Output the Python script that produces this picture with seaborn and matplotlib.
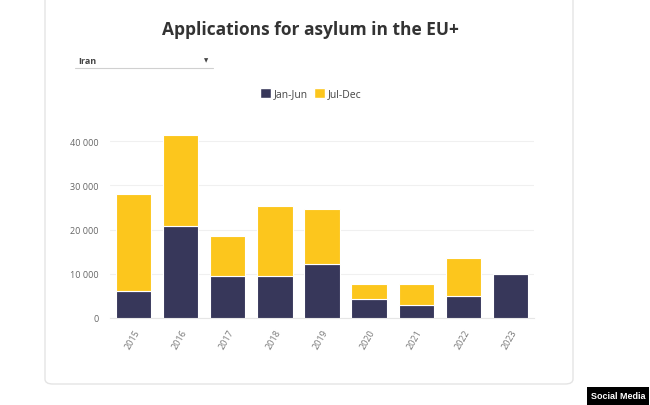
import numpy as np
import pandas as pd
import seaborn as sns
import matplotlib.pyplot as plt
from matplotlib.patches import FancyBboxPatch, Patch
from matplotlib.lines import Line2D

years = ['2015', '2016', '2017', '2018', '2019', '2020', '2021', '2022', '2023']
jan_jun = [6100, 20900, 9400, 9600, 12100, 4200, 3000, 4900, 9900]
jul_dec = [22000, 20500, 9100, 15800, 12500, 3550, 4800, 8700, 0]
yticks = [0, 10000, 20000, 30000, 40000]
ytick_labels = ['0', '10 000', '20 000', '30 000', '40 000']

navy = '#37375a'
yellow = '#fcc61d'

sns.set_style('white')
plt.rcParams['font.family'] = ['Open Sans', 'DejaVu Sans']

df = pd.DataFrame({'year': years, 'Jan-Jun': jan_jun, 'Jul-Dec': jul_dec})

fig = plt.figure(figsize=(6.5, 4.06), dpi=100)

# card background
card = FancyBboxPatch((45 / 650, 21 / 406), 528 / 650, 400 / 406,
                      boxstyle='round,pad=0,rounding_size=0.012',
                      transform=fig.transFigure, facecolor='white',
                      edgecolor='#e4e4e4', linewidth=1.0, zorder=-5)
fig.patches.append(card)

ax = fig.add_axes([110 / 650, 1 - 319 / 406, 424 / 650, 199 / 406])
ax.patch.set_alpha(0)
sns.barplot(data=df, x='year', y='Jan-Jun', color=navy, saturation=1, width=0.75,
            edgecolor='white', linewidth=0.8, ax=ax, zorder=3)
sns.barplot(data=df, x='year', y='Jul-Dec', bottom=df['Jan-Jun'], color=yellow,
            saturation=1, width=0.75, edgecolor='white', linewidth=0.8, ax=ax, zorder=3)

ax.set_ylim(0, 45000)
ax.set_xlim(-0.5, 8.5)
ax.set_yticks(yticks)
ax.set_yticklabels(ytick_labels, fontsize=6.5, color='#666666')
ax.set_xticks(range(len(years)))
ax.set_xticklabels(years, rotation=60, ha='right', rotation_mode='anchor',
                   fontsize=6.5, color='#777777')
ax.tick_params(axis='both', length=0, pad=7)
ax.tick_params(axis='y', pad=8)
ax.grid(axis='y', color='#f0f0f0', linewidth=0.8, zorder=0)
ax.set_axisbelow(True)
ax.set_xlabel('')
ax.set_ylabel('')
for s in ['top', 'right', 'left']:
    ax.spines[s].set_visible(False)
ax.spines['bottom'].set_color('#e6e6e6')
ax.spines['bottom'].set_linewidth(0.8)

fig.text(310 / 650, 1 - 30 / 406, 'Applications for asylum in the EU+',
         ha='center', va='center', fontsize=12.5, fontweight='bold', color='#333333')

# dropdown
fig.text(78 / 650, 1 - 61 / 406, 'Iran', ha='left', va='center',
         fontsize=6.5, fontweight='bold', color='#444444')
fig.text(206 / 650, 1 - 61 / 406, '▼', ha='center', va='center',
         fontsize=4, color='#444444', family=['DejaVu Sans'])
fig.add_artist(Line2D([75 / 650, 213 / 650], [1 - 69 / 406, 1 - 69 / 406],
                      transform=fig.transFigure, color='#d0d0d0', linewidth=0.8))

handles = [Patch(facecolor=navy, label='Jan-Jun'), Patch(facecolor=yellow, label='Jul-Dec')]
fig.legend(handles=handles, loc='center', bbox_to_anchor=(311 / 650, 1 - 95 / 406),
           ncol=2, frameon=False, fontsize=7.5, handlelength=1.0, handleheight=1.0,
           handletextpad=0.3, columnspacing=0.6, labelcolor='#444444')

fig.text(618 / 650, 1 - 397 / 406, 'Social Media', ha='center', va='center',
         fontsize=6.5, fontweight='bold', color='white', family=['Liberation Sans', 'DejaVu Sans'],
         bbox=dict(boxstyle='square,pad=0.45', facecolor='black', edgecolor='none'))

fig.savefig('out.png', dpi=100)
